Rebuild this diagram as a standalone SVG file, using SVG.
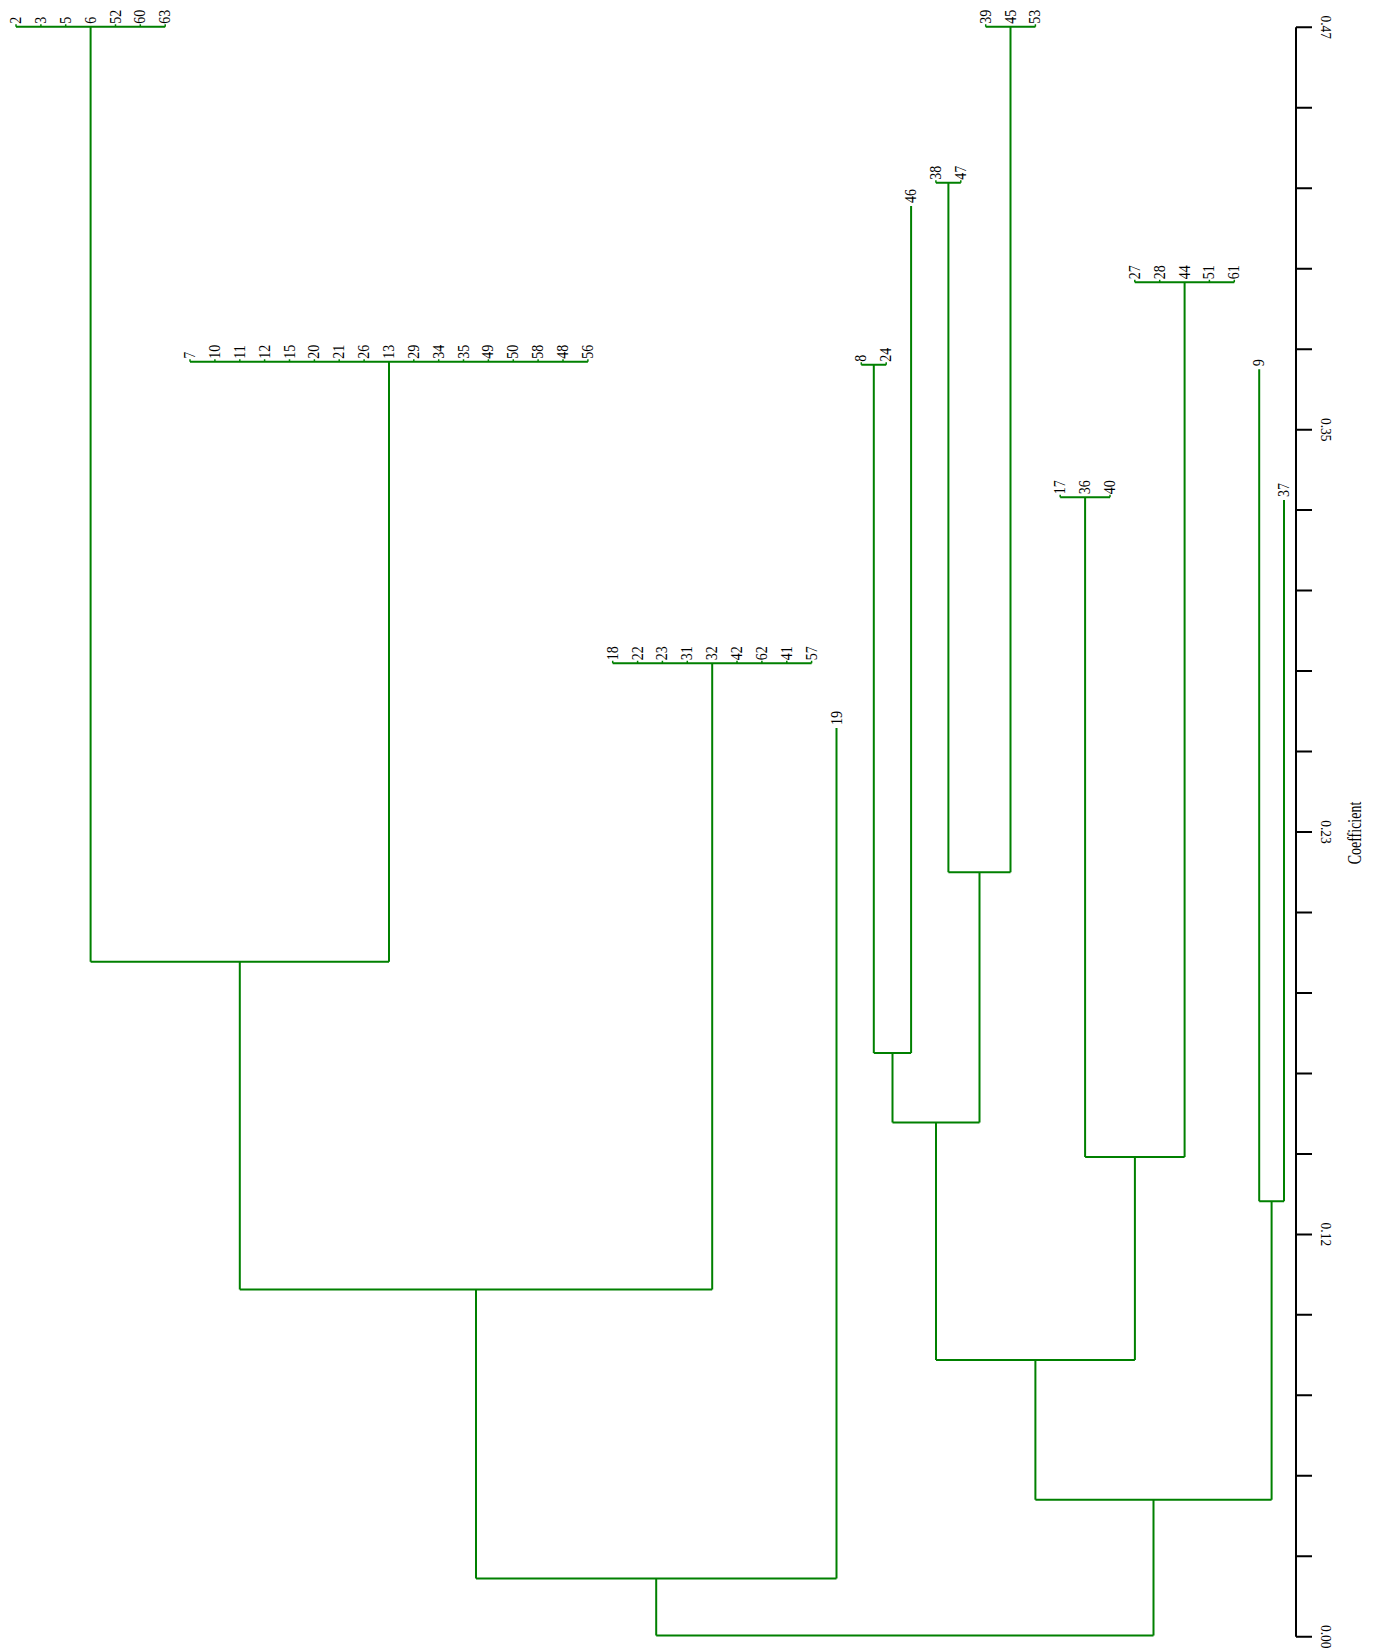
<svg xmlns="http://www.w3.org/2000/svg" width="1380" height="1648" viewBox="0 0 1380 1648">
<style>
.lbl{font-family:"Liberation Serif","Times New Roman",serif;font-size:14px;fill:#000}
.ax{font-family:"Liberation Serif","Times New Roman",serif;font-size:13.5px;fill:#000}
.tree{fill:none;stroke:#008000;stroke-width:2}
.tk{fill:none;stroke:#008000;stroke-width:1.5}
.axis{fill:none;stroke:#000;stroke-width:2}
</style>
<rect width="1380" height="1648" fill="#fff"/>
<g id="connectors" class="tree">
<path d="M16,26.7H165.2M90.6,26.7V961.7"/>
<path d="M190,361.7H587.9M389,361.7V961.7"/>
<path d="M90.6,961.7H389M239.8,961.7V1289.6"/>
<path d="M612.7,663.3H811.6M712.2,663.3V1289.6"/>
<path d="M239.8,1289.6H712.2M476,1289.6V1578.6"/>
<path d="M836.5,728V1578.6"/>
<path d="M476,1578.6H836.5M656.2,1578.6V1635.4"/>
<path d="M656.2,1635.4H1153.5"/>
<path d="M861.3,364.7H886.2M873.8,364.7V1053"/>
<path d="M911.1,206V1053"/>
<path d="M873.8,1053H911.1M892.5,1053V1122.5"/>
<path d="M935.9,182.7H960.8M948.4,182.7V872.3"/>
<path d="M985.7,26.7H1035.4M1010.5,26.7V872.3"/>
<path d="M948.4,872.3H1010.5M979.5,872.3V1122.5"/>
<path d="M892.5,1122.5H979.5M936,1122.5V1360"/>
<path d="M1060.2,497.3H1110M1085.1,497.3V1157"/>
<path d="M1134.8,282.3H1234.3M1184.6,282.3V1157"/>
<path d="M1085.1,1157H1184.6M1134.9,1157V1360"/>
<path d="M936,1360H1134.9M1035.4,1360V1499.8"/>
<path d="M1259.2,369.3V1201.3"/>
<path d="M1284,500V1201.3"/>
<path d="M1259.2,1201.3H1284M1271.6,1201.3V1499.8"/>
<path d="M1035.4,1499.8H1271.6M1153.5,1499.8V1635.4"/>
<path class="tk" d="M16,26.7v-2.5M40.9,26.7v-2.5M65.7,26.7v-2.5M115.5,26.7v-2.5M140.3,26.7v-2.5M165.2,26.7v-2.5
M190,361.7v-2.5M214.9,361.7v-2.5M239.8,361.7v-2.5M264.6,361.7v-2.5M289.5,361.7v-2.5M314.4,361.7v-2.5M339.2,361.7v-2.5M364.1,361.7v-2.5M413.8,361.7v-2.5M438.7,361.7v-2.5M463.5,361.7v-2.5M488.4,361.7v-2.5M513.3,361.7v-2.5M538.1,361.7v-2.5M563,361.7v-2.5M587.9,361.7v-2.5
M612.7,663.3v-2.5M637.6,663.3v-2.5M662.4,663.3v-2.5M687.3,663.3v-2.5M737,663.3v-2.5M761.9,663.3v-2.5M786.8,663.3v-2.5M811.6,663.3v-2.5
M861.3,364.7v-2.5M886.2,364.7v-2.5M935.9,182.7v-2.5M960.8,182.7v-2.5M985.7,26.7v-2.5M1035.4,26.7v-2.5
M1060.2,497.3v-2.5M1110,497.3v-2.5M1134.8,282.3v-2.5M1159.7,282.3v-2.5M1209.4,282.3v-2.5M1234.3,282.3v-2.5"/>
</g>
<g id="leaves" class="lbl">
<g id="leaf-2"><text transform="translate(21,23.7) rotate(-90) scale(1,1.12)">2</text></g>
<g id="leaf-3"><text transform="translate(45.9,23.7) rotate(-90) scale(1,1.12)">3</text></g>
<g id="leaf-5"><text transform="translate(70.7,23.7) rotate(-90) scale(1,1.12)">5</text></g>
<g id="leaf-6"><text transform="translate(95.6,23.7) rotate(-90) scale(1,1.12)">6</text></g>
<g id="leaf-52"><text transform="translate(120.5,23.7) rotate(-90) scale(1,1.12)">52</text></g>
<g id="leaf-60"><text transform="translate(145.3,23.7) rotate(-90) scale(1,1.12)">60</text></g>
<g id="leaf-63"><text transform="translate(170.2,23.7) rotate(-90) scale(1,1.12)">63</text></g>
<g id="leaf-7"><text transform="translate(195,358.7) rotate(-90) scale(1,1.12)">7</text></g>
<g id="leaf-10"><text transform="translate(219.9,358.7) rotate(-90) scale(1,1.12)">10</text></g>
<g id="leaf-11"><text transform="translate(244.8,358.7) rotate(-90) scale(1,1.12)">11</text></g>
<g id="leaf-12"><text transform="translate(269.6,358.7) rotate(-90) scale(1,1.12)">12</text></g>
<g id="leaf-15"><text transform="translate(294.5,358.7) rotate(-90) scale(1,1.12)">15</text></g>
<g id="leaf-20"><text transform="translate(319.4,358.7) rotate(-90) scale(1,1.12)">20</text></g>
<g id="leaf-21"><text transform="translate(344.2,358.7) rotate(-90) scale(1,1.12)">21</text></g>
<g id="leaf-26"><text transform="translate(369.1,358.7) rotate(-90) scale(1,1.12)">26</text></g>
<g id="leaf-13"><text transform="translate(394,358.7) rotate(-90) scale(1,1.12)">13</text></g>
<g id="leaf-29"><text transform="translate(418.8,358.7) rotate(-90) scale(1,1.12)">29</text></g>
<g id="leaf-34"><text transform="translate(443.7,358.7) rotate(-90) scale(1,1.12)">34</text></g>
<g id="leaf-35"><text transform="translate(468.5,358.7) rotate(-90) scale(1,1.12)">35</text></g>
<g id="leaf-49"><text transform="translate(493.4,358.7) rotate(-90) scale(1,1.12)">49</text></g>
<g id="leaf-50"><text transform="translate(518.3,358.7) rotate(-90) scale(1,1.12)">50</text></g>
<g id="leaf-58"><text transform="translate(543.1,358.7) rotate(-90) scale(1,1.12)">58</text></g>
<g id="leaf-48"><text transform="translate(568,358.7) rotate(-90) scale(1,1.12)">48</text></g>
<g id="leaf-56"><text transform="translate(592.9,358.7) rotate(-90) scale(1,1.12)">56</text></g>
<g id="leaf-18"><text transform="translate(617.7,660.3) rotate(-90) scale(1,1.12)">18</text></g>
<g id="leaf-22"><text transform="translate(642.6,660.3) rotate(-90) scale(1,1.12)">22</text></g>
<g id="leaf-23"><text transform="translate(667.4,660.3) rotate(-90) scale(1,1.12)">23</text></g>
<g id="leaf-31"><text transform="translate(692.3,660.3) rotate(-90) scale(1,1.12)">31</text></g>
<g id="leaf-32"><text transform="translate(717.2,660.3) rotate(-90) scale(1,1.12)">32</text></g>
<g id="leaf-42"><text transform="translate(742,660.3) rotate(-90) scale(1,1.12)">42</text></g>
<g id="leaf-62"><text transform="translate(766.9,660.3) rotate(-90) scale(1,1.12)">62</text></g>
<g id="leaf-41"><text transform="translate(791.8,660.3) rotate(-90) scale(1,1.12)">41</text></g>
<g id="leaf-57"><text transform="translate(816.6,660.3) rotate(-90) scale(1,1.12)">57</text></g>
<g id="leaf-19"><text transform="translate(841.5,725) rotate(-90) scale(1,1.12)">19</text></g>
<g id="leaf-8"><text transform="translate(866.3,361.7) rotate(-90) scale(1,1.12)">8</text></g>
<g id="leaf-24"><text transform="translate(891.2,361.7) rotate(-90) scale(1,1.12)">24</text></g>
<g id="leaf-46"><text transform="translate(916.1,203) rotate(-90) scale(1,1.12)">46</text></g>
<g id="leaf-38"><text transform="translate(940.9,179.7) rotate(-90) scale(1,1.12)">38</text></g>
<g id="leaf-47"><text transform="translate(965.8,179.7) rotate(-90) scale(1,1.12)">47</text></g>
<g id="leaf-39"><text transform="translate(990.7,23.7) rotate(-90) scale(1,1.12)">39</text></g>
<g id="leaf-45"><text transform="translate(1015.5,23.7) rotate(-90) scale(1,1.12)">45</text></g>
<g id="leaf-53"><text transform="translate(1040.4,23.7) rotate(-90) scale(1,1.12)">53</text></g>
<g id="leaf-17"><text transform="translate(1065.2,494.3) rotate(-90) scale(1,1.12)">17</text></g>
<g id="leaf-36"><text transform="translate(1090.1,494.3) rotate(-90) scale(1,1.12)">36</text></g>
<g id="leaf-40"><text transform="translate(1115,494.3) rotate(-90) scale(1,1.12)">40</text></g>
<g id="leaf-27"><text transform="translate(1139.8,279.3) rotate(-90) scale(1,1.12)">27</text></g>
<g id="leaf-28"><text transform="translate(1164.7,279.3) rotate(-90) scale(1,1.12)">28</text></g>
<g id="leaf-44"><text transform="translate(1189.6,279.3) rotate(-90) scale(1,1.12)">44</text></g>
<g id="leaf-51"><text transform="translate(1214.4,279.3) rotate(-90) scale(1,1.12)">51</text></g>
<g id="leaf-61"><text transform="translate(1239.3,279.3) rotate(-90) scale(1,1.12)">61</text></g>
<g id="leaf-9"><text transform="translate(1264.2,366.3) rotate(-90) scale(1,1.12)">9</text></g>
<g id="leaf-37"><text transform="translate(1289,497) rotate(-90) scale(1,1.12)">37</text></g>
</g>
<g id="axis">
<path class="axis" d="M1296,27.3V1636.7"/>
<path class="axis" d="M1296,27.3h16M1296,107.8h16M1296,188.2h16M1296,268.7h16M1296,349.2h16M1296,429.7h16M1296,510.1h16M1296,590.6h16M1296,671.1h16M1296,751.5h16M1296,832h16M1296,912.5h16M1296,992.9h16M1296,1073.4h16M1296,1153.9h16M1296,1234.4h16M1296,1314.8h16M1296,1395.3h16M1296,1475.8h16M1296,1556.2h16M1296,1636.7h16"/>
<g class="ax" text-anchor="middle">
<text transform="translate(1321,27.3) rotate(90) scale(1,1.1)">0.47</text>
<text transform="translate(1321,429.7) rotate(90) scale(1,1.1)">0.35</text>
<text transform="translate(1321,832) rotate(90) scale(1,1.1)">0.23</text>
<text transform="translate(1321,1234.4) rotate(90) scale(1,1.1)">0.12</text>
<text transform="translate(1321,1636.7) rotate(90) scale(1,1.1)">0.00</text>
</g>
<text class="lbl" text-anchor="middle" transform="translate(1361,833) rotate(-90) scale(1,1.3)">Coefficient</text>
</g>
</svg>
